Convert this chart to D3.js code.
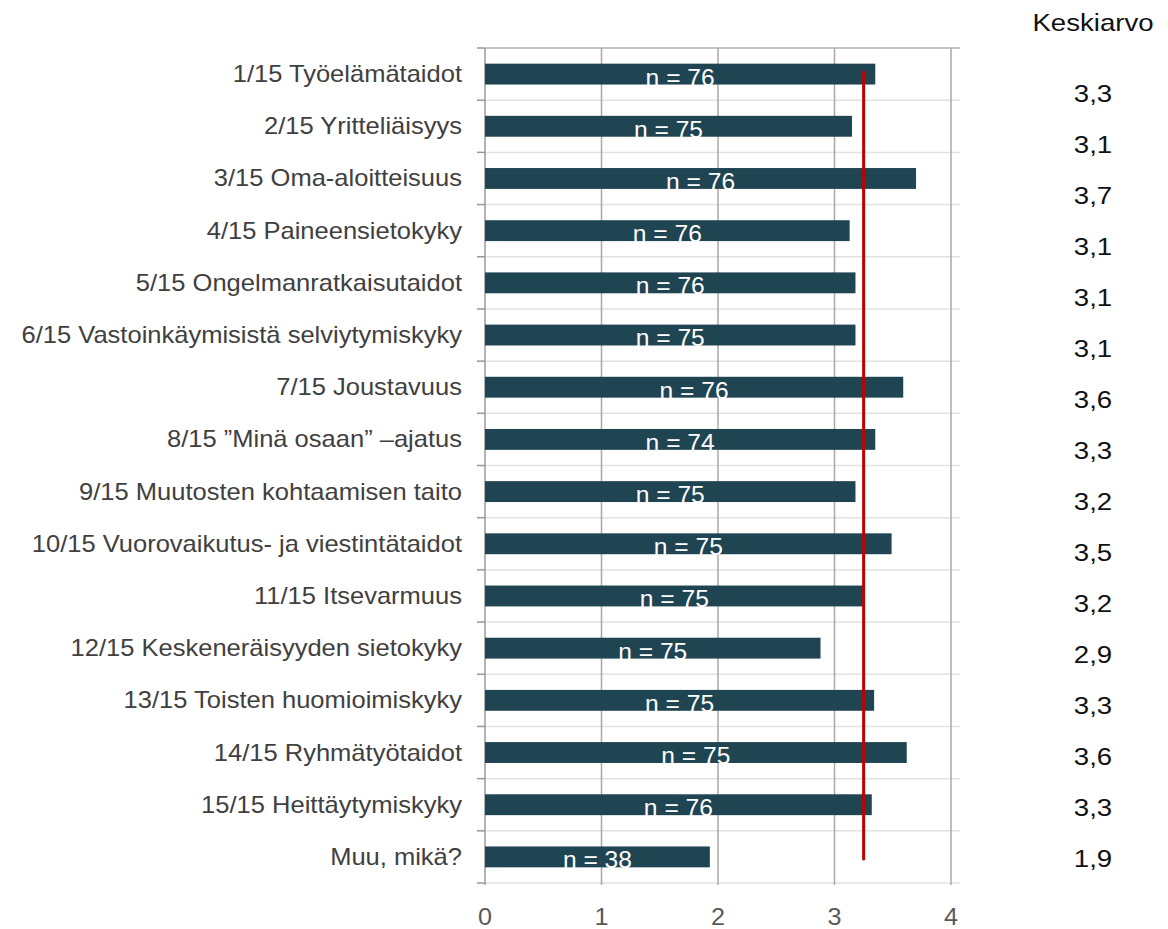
<!DOCTYPE html>
<html><head><meta charset="utf-8">
<script src="https://cdn.jsdelivr.net/npm/d3@7"></script>
<style>html,body{margin:0;padding:0;background:#fff;}svg{display:block;}</style>
</head><body>
<svg id="chart" width="1168" height="929"></svg>
<script>
const categories = [
  "1/15 Työelämätaidot",
  "2/15 Yritteliäisyys",
  "3/15 Oma-aloitteisuus",
  "4/15 Paineensietokyky",
  "5/15 Ongelmanratkaisutaidot",
  "6/15 Vastoinkäymisistä selviytymiskyky",
  "7/15 Joustavuus",
  "8/15 ”Minä osaan” –ajatus",
  "9/15 Muutosten kohtaamisen taito",
  "10/15 Vuorovaikutus- ja viestintätaidot",
  "11/15 Itsevarmuus",
  "12/15 Keskeneräisyyden sietokyky",
  "13/15 Toisten huomioimiskyky",
  "14/15 Ryhmätyötaidot",
  "15/15 Heittäytymiskyky",
  "Muu, mikä?"
];
const means = [3.35, 3.15, 3.70, 3.13, 3.18, 3.18, 3.59, 3.35, 3.18, 3.49, 3.25, 2.88, 3.34, 3.62, 3.32, 1.93];
const nValues = [76, 75, 76, 76, 76, 75, 76, 74, 75, 75, 75, 75, 75, 75, 76, 38];
const meanLabels = ["3,3","3,1","3,7","3,1","3,1","3,1","3,6","3,3","3,2","3,5","3,2","2,9","3,3","3,6","3,3","1,9"];
const xTicks = [0, 1, 2, 3, 4];
const overallMean = 3.25;
const columnTitle = "Keskiarvo";

const svg = d3.select("#chart");
const x = d3.scaleLinear().domain([0, 4]).range([485, 951]);
const y = d3.scaleBand().domain(categories).range([48, 883]).paddingInner(0.6).paddingOuter(0.3);
const yVal = d3.scalePoint().domain(categories).range([93, 858]);
const step = y.step();
const plotTop = 48, plotBottom = 883;

function stext(g, tx, ty, str, opts) {
  return g.append("text")
    .attr("transform", `translate(${tx},${ty}) scale(${opts.sx},1)`)
    .attr("text-anchor", opts.anchor || "middle")
    .attr("font-family", "'Liberation Sans', Arial, sans-serif")
    .attr("font-size", opts.size)
    .attr("fill", opts.fill)
    .text(str);
}

// horizontal light gridlines at band boundaries
const boundaries = d3.range(categories.length + 1).map(i => plotTop + i * step);
svg.append("g").selectAll("line").data(boundaries).join("line")
  .attr("x1", x(0)).attr("x2", 960)
  .attr("y1", d => d).attr("y2", d => d)
  .attr("stroke", (d, i) => i === 0 ? "#b0b0b0" : "#e2e2e2")
  .attr("stroke-width", 1.5);

// left tick marks
svg.append("g").selectAll("line").data(boundaries).join("line")
  .attr("x1", x(0) - 8).attr("x2", x(0))
  .attr("y1", d => d).attr("y2", d => d)
  .attr("stroke", "#999").attr("stroke-width", 1.5);

// vertical gridlines
svg.append("g").selectAll("line").data(xTicks).join("line")
  .attr("x1", d => x(d)).attr("x2", d => x(d))
  .attr("y1", plotTop).attr("y2", plotBottom + 2)
  .attr("stroke", d => d === 0 ? "#9a9a9a" : "#a8a8a8")
  .attr("stroke-width", 1.5);

// bars
svg.append("g").selectAll("rect").data(categories).join("rect")
  .attr("x", x(0))
  .attr("y", d => y(d))
  .attr("width", (d, i) => x(means[i]) - x(0))
  .attr("height", y.bandwidth())
  .attr("fill", "#1f4452");

// n labels
const nG = svg.append("g");
categories.forEach((c, i) => {
  stext(nG, (x(0) + x(means[i])) / 2, y(c) + y.bandwidth() + 1, "n = " + nValues[i],
    { size: 23, fill: "#ffffff", sx: 1.07 });
});

// overall mean line
svg.append("line")
  .attr("x1", x(overallMean)).attr("x2", x(overallMean))
  .attr("y1", y(categories[0]) + y.bandwidth() / 2 - 2)
  .attr("y2", y(categories[categories.length - 1]) + y.bandwidth() / 2 + 2)
  .attr("stroke", "#c00000").attr("stroke-width", 3).attr("stroke-linecap", "round");

// category labels
const cG = svg.append("g");
categories.forEach(c => {
  stext(cG, 462, y(c) + y.bandwidth() / 2 + 8, c, { size: 23, fill: "#404040", anchor: "end", sx: 1.11 });
});

// x tick labels
const tG = svg.append("g");
xTicks.forEach(t => {
  stext(tG, x(t), 925, String(t), { size: 24, fill: "#595959", sx: 1.05 });
});

// mean value column
const mG = svg.append("g");
stext(mG, 1093, 31, columnTitle, { size: 24, fill: "#111", sx: 1.15 });
categories.forEach((c, i) => {
  stext(mG, 1093, yVal(c) + 9, meanLabels[i], { size: 24, fill: "#111", sx: 1.15 });
});
</script>
</body></html>
